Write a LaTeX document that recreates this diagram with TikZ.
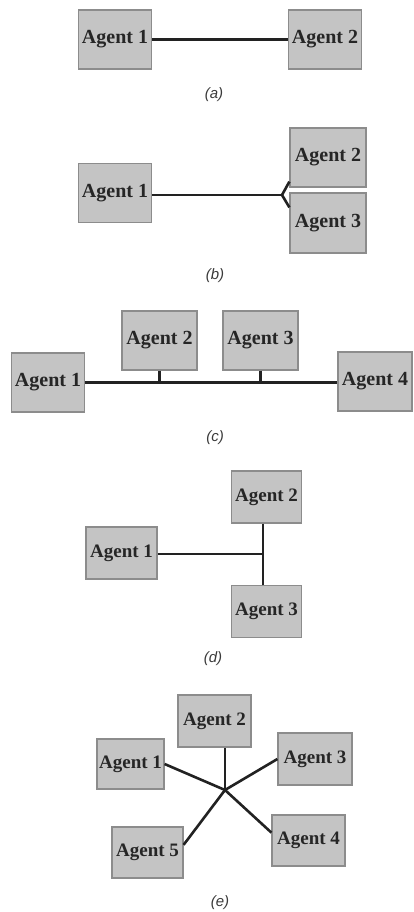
\documentclass[tikz,border=0pt]{standalone}
\usepackage{fontspec}
\setmainfont{Liberation Serif}
\newfontfamily\capfont{Liberation Sans}
\usetikzlibrary{calc}

\definecolor{boxfill}{HTML}{C4C4C4}
\definecolor{boxedge}{HTML}{8C8C8C}
\definecolor{agenttext}{HTML}{262626}
\definecolor{linkcol}{HTML}{222222}
\definecolor{captext}{HTML}{3A3A3A}

\tikzset{
  agent/.style={draw=boxedge, fill=boxfill, line width=1.2pt, inner sep=0pt,
    text=agenttext, font=\bfseries\fontsize{20}{20}\selectfont},
  bigbox/.style={agent, minimum width=73pt, minimum height=59pt},
  smallbox/.style={agent, minimum width=70pt, minimum height=52pt,
    font=\bfseries\fontsize{19}{19}\selectfont},
  link/.style={draw=linkcol, line width=2.6pt},
  caption/.style={text=captext, font=\capfont\itshape\fontsize{15}{15}\selectfont}
}

\begin{document}
\begin{tikzpicture}[x=1pt, y=-1pt]
  \useasboundingbox (0,0) rectangle (414,912);

  % (a) two agents
  \node[bigbox] (a1) at (115,39.5) {Agent 1};
  \node[bigbox] (a2) at (325,39.5) {Agent 2};
  \draw[link] (a1) -- (a2);
  \node[caption] (capa) at (214,95) {(a)};

  % (b) one agent forking to two
  \node[bigbox] (b1) at (115,193) {Agent 1};
  \node[bigbox, minimum width=76pt] (b2) at (328,157.5) {Agent 2};
  \node[bigbox, minimum width=76pt, minimum height=60pt] (b3) at (328,223) {Agent 3};
  \coordinate (fork) at (282,195);
  \draw[link] (b1.east |- fork) -- (fork);
  \draw[link] (b2.212) -- (fork) -- (b3.158);
  \node[caption] (capb) at (215,276) {(b)};

  % (c) shared bus
  \node[bigbox] (c1) at (48,382.5) {Agent 1};
  \node[bigbox, minimum width=75pt] (c2) at (159.5,340.5) {Agent 2};
  \node[bigbox, minimum width=75pt] (c3) at (260.5,340.5) {Agent 3};
  \node[bigbox, minimum width=74pt] (c4) at (375,381.5) {Agent 4};
  \draw[link] (c1.east) -- (c4.west |- c1.east);
  \foreach \n in {c2,c3}
    \draw[link] (\n.south) -- (\n.south |- c1.east);
  \node[caption] (capc) at (215,438) {(c)};

  % (d) tee junction
  \node[smallbox] (d2) at (266.5,497) {Agent 2};
  \node[smallbox, minimum width=71pt] (d1) at (121.5,553) {Agent 1};
  \node[smallbox] (d3) at (266.5,611.5) {Agent 3};
  \coordinate (tee) at (263,554);
  \draw[link] (tee |- d2.south) -- (tee |- d3.north);
  \draw[link] (d1.east |- tee) -- (tee);
  \node[caption] (capd) at (213,659) {(d)};

  % (e) star around a hub
  \node[smallbox, minimum width=73pt] (e2) at (214.5,721) {Agent 2};
  \node[smallbox, minimum width=67pt, minimum height=50pt] (e1) at (130.5,764) {Agent 1};
  \node[smallbox, minimum width=74pt] (e3) at (315,759) {Agent 3};
  \node[smallbox, minimum width=73pt, minimum height=51pt] (e4) at (308.5,840.5) {Agent 4};
  \node[smallbox, minimum width=71pt, minimum height=51pt] (e5) at (147.5,852.5) {Agent 5};
  \coordinate (hub) at (225,790);
  \draw[link] (hub) -- (hub |- e2.south);
  \foreach \a in {e1.east, e3.west, e4.168, e5.12}
    \draw[link] (hub) -- (\a);
  \node[caption] (cape) at (220,903) {(e)};
\end{tikzpicture}
\end{document}
